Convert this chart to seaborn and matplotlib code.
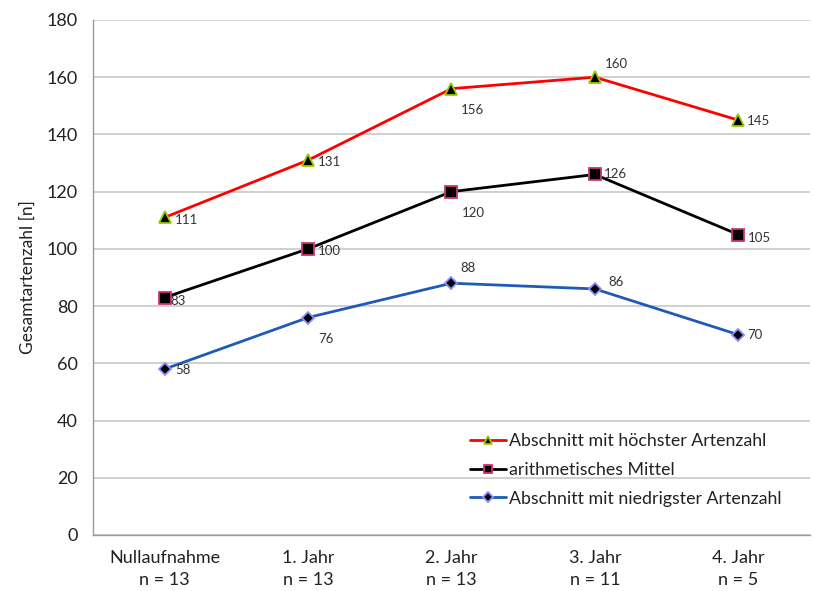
import numpy as np
import pandas as pd
import matplotlib
matplotlib.use("Agg")
import matplotlib.pyplot as plt
import seaborn as sns

# Daten
kategorien = ["Nullaufnahme\nn = 13", "1. Jahr\nn = 13", "2. Jahr\nn = 13",
              "3. Jahr\nn = 11", "4. Jahr\nn = 5"]
hoechste = [111, 131, 156, 160, 145]
mittel = [83, 100, 120, 126, 105]
niedrigste = [58, 76, 88, 86, 70]

sns.set_style("white")
plt.rcParams['font.family'] = ['Lato', 'DejaVu Sans']

fig = plt.figure(figsize=(8.13, 5.91), dpi=100)
ax = fig.add_axes([0.1144, 0.0948, 0.8819, 0.8714])

x = np.arange(len(kategorien))

serien = [
    ("Abschnitt mit höchster Artenzahl", hoechste, "#FF0000", "^", "#99CC00", 8),
    ("arithmetisches Mittel", mittel, "#000000", "s", "#CC3377", 8),
    ("Abschnitt mit niedrigster Artenzahl", niedrigste, "#1F5BB5", "D", "#8C8CFF", 6),
]
for name, werte, farbe, marker, kante, ms in serien:
    sns.lineplot(x=x, y=werte, ax=ax, color=farbe, linewidth=2, marker=marker,
                 markersize=ms, markerfacecolor="black", markeredgecolor=kante,
                 markeredgewidth=1.3, label=name)

# Beschriftungen (Versatz in Pixeln)
versatz_h = [(10, -3), (10, -2), (9, -21), (10, 13), (9, -1)]
versatz_m = [(6, -3), (10, -2), (10, -21), (9, 0), (10, -3)]
versatz_n = [(11, -1), (10, -21), (9, 15), (13, 7), (9, 0)]
for werte, vers in [(hoechste, versatz_h), (mittel, versatz_m), (niedrigste, versatz_n)]:
    for xi, v, (dx, dy) in zip(x, werte, vers):
        ax.annotate(str(v), (xi, v), xytext=(dx, dy), textcoords="offset pixels",
                    ha="left", va="center", fontsize=9.5, color="#333333")

ax.set_xlim(-0.5, 4.5)
ax.set_ylim(0, 180)
ax.set_yticks(range(0, 181, 20))
ax.set_xticks(x)
ax.set_xticklabels(kategorien, fontsize=13, color="#222222", linespacing=1.45)
ax.set_xticks(np.arange(-0.5, 5, 1), minor=True)
ax.tick_params(axis="x", which="major", length=0, pad=11)
ax.tick_params(axis="x", which="minor", length=5, color="#999999", width=1)
ax.tick_params(axis="y", length=6, color="#999999", width=1, labelsize=13,
               labelcolor="#222222", pad=5)
ax.yaxis.grid(True, color="#C8C8C8", linewidth=1.2)
ax.set_axisbelow(True)
ax.set_ylabel("Gesamtartenzahl [n]", fontsize=12.5, color="#222222", labelpad=8)
ax.set_xlabel("")

for s in ["top", "right"]:
    ax.spines[s].set_visible(False)
for s in ["left", "bottom"]:
    ax.spines[s].set_color("#999999")
    ax.spines[s].set_linewidth(1)

ax.legend(loc="upper left", bbox_to_anchor=(0.526, 0.198), frameon=False,
          borderaxespad=0, borderpad=0, markerscale=0.8,
          fontsize=12.8, handlelength=2.0, handletextpad=0.2, labelspacing=0.72,
          labelcolor="#222222")

plt.savefig("out.png", dpi=100)
